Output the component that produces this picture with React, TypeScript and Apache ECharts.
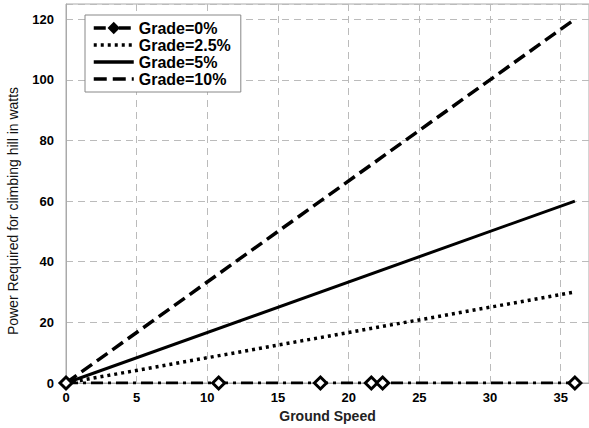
import React, { useEffect, useRef } from "react";
import * as echarts from "echarts";

const seriesNames = ["Grade=0%", "Grade=2.5%", "Grade=5%", "Grade=10%"];
const grade0: [number, number][] = [[0, 0], [10.8, 0], [18, 0], [21.6, 0], [22.4, 0], [36, 0]];
const grade25: [number, number][] = [[0, 0], [36, 30]];
const grade5: [number, number][] = [[0, 0], [36, 60]];
const grade10: [number, number][] = [[0, 0], [36, 120]];
const xTitle = "Ground Speed";
const yTitle = "Power Required for climbing hill in watts";

export default function App() {
  const ref = useRef<HTMLDivElement>(null);
  useEffect(() => {
    if (!ref.current) return;
    const chart = echarts.init(ref.current, null, { renderer: "svg" });
    const font = "Liberation Sans, Arial, sans-serif";
    chart.setOption({
      animation: false,
      backgroundColor: "#fff",
      grid: {
        left: 66, right: -2, top: 4, bottom: 45,
        show: true, borderColor: "#aaa", borderWidth: 1,
      },
      legend: {
        orient: "vertical",
        left: 85, top: 15,
        padding: [5, 10, 5, 7],
        backgroundColor: "#fff",
        borderColor: "#888",
        borderWidth: 1,
        borderRadius: 0,
        itemWidth: 40,
        itemHeight: 12,
        itemGap: 1,
        textStyle: { fontFamily: font, fontWeight: "bold", fontSize: 16, color: "#000" },
        data: [
          { name: seriesNames[0], lineStyle: { width: 3.5 }, itemStyle: { color: "#000", borderColor: "#000" } },
          { name: seriesNames[1], lineStyle: { width: 3.5 }, itemStyle: { opacity: 0 } },
          { name: seriesNames[2], lineStyle: { width: 3.5 }, itemStyle: { opacity: 0 } },
          { name: seriesNames[3], lineStyle: { width: 3.5 }, itemStyle: { opacity: 0 } },
        ],
      },
      xAxis: {
        type: "value",
        min: 0, max: 37, interval: 5,
        axisLine: { show: true, onZero: false, lineStyle: { color: "#aaa" } },
        axisTick: { show: false },
        axisLabel: {
          showMaxLabel: false,
          fontFamily: font, fontWeight: "bold", fontSize: 13, color: "#000", margin: 8,
        },
        splitLine: { show: true, lineStyle: { type: [7, 5], color: "#bbb" } },
        name: xTitle,
        nameLocation: "middle",
        nameGap: 25,
        nameTextStyle: { fontFamily: font, fontWeight: "bold", fontSize: 14, color: "#222" },
      },
      yAxis: {
        type: "value",
        min: 0, max: 125, interval: 20,
        axisLine: { show: true, lineStyle: { color: "#aaa" } },
        axisTick: { show: false },
        axisLabel: {
          showMaxLabel: false,
          fontFamily: font, fontWeight: "bold", fontSize: 13, color: "#000", margin: 12,
        },
        splitLine: { show: true, lineStyle: { type: [7, 5], color: "#bbb" } },
      },
      graphic: [
        {
          type: "text",
          x: 6, y: 211,
          rotation: Math.PI / 2,
          style: {
            text: yTitle,
            fontFamily: font,
            fontSize: 14,
            fill: "#111",
            align: "center",
            verticalAlign: "top",
          },
        },
      ],
      series: [
        {
          name: seriesNames[0], type: "line", data: grade0,
          symbol: "diamond", symbolSize: 12, showAllSymbol: true,
          lineStyle: { color: "#000", width: 3, type: [12, 5, 3, 5] },
          itemStyle: { color: "#fff", borderColor: "#000", borderWidth: 3 },
          z: 5,
        },
        {
          name: seriesNames[1], type: "line", data: grade25, symbol: "none",
          lineStyle: { color: "#000", width: 3.5, type: [3, 4] },
          itemStyle: { color: "#000" },
        },
        {
          name: seriesNames[2], type: "line", data: grade5, symbol: "none",
          lineStyle: { color: "#000", width: 3, type: "solid" },
          itemStyle: { color: "#000" },
        },
        {
          name: seriesNames[3], type: "line", data: grade10, symbol: "none",
          lineStyle: { color: "#000", width: 3.5, type: [13, 6] },
          itemStyle: { color: "#000" },
        },
      ],
    });
    return () => chart.dispose();
  }, []);
  return <div ref={ref} style={{ width: 589, height: 428, position: "absolute", left: 0, top: 0 }} />;
}
